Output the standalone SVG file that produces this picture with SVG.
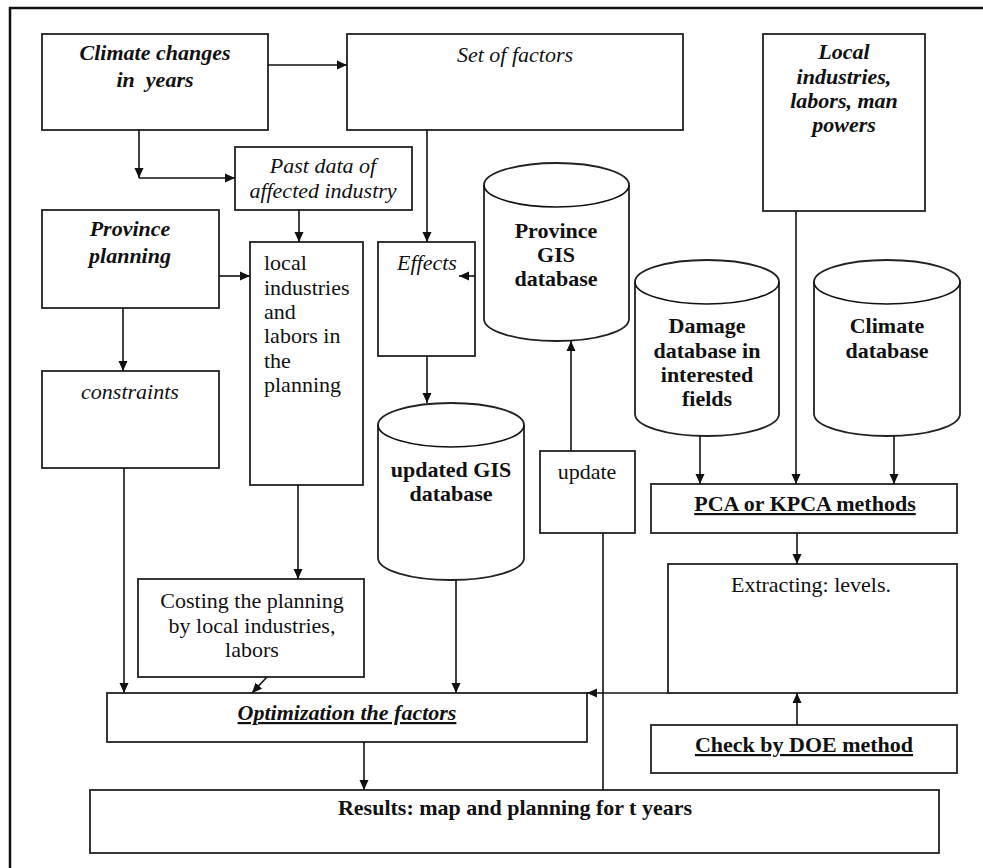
<svg xmlns="http://www.w3.org/2000/svg" width="983" height="868" viewBox="0 0 983 868">
<defs>
<style>
.b{fill:#fff;stroke:#222;stroke-width:1.8}
.c{fill:none;stroke:#111;stroke-width:1.6}
.t{font-family:"Liberation Serif","Times New Roman",serif;font-size:22px;fill:#111;text-anchor:middle}
.l{text-anchor:start}
.i{font-style:italic}
.w{font-weight:bold}
.u{text-decoration:underline}
</style>
<marker id="ah" viewBox="0 0 10 10" refX="10" refY="5" markerWidth="10" markerHeight="10" markerUnits="userSpaceOnUse" orient="auto">
<path d="M0,0.5 L10,5 L0,9.5 z" fill="#111"/>
</marker>
</defs>
<rect width="983" height="868" fill="#fff"/>
<path d="M10,868 V8 H983" fill="none" stroke="#111" stroke-width="2.5"/>

<g id="climate">
<rect class="b" x="42" y="34" width="226" height="96"/>
<text class="t i w" x="155" y="60">Climate changes</text>
<text class="t i w" x="155" y="87" style="white-space:pre">in  years</text>
</g>
<g id="setfactors">
<rect class="b" x="347" y="34" width="336" height="96"/>
<text class="t i" x="515" y="62">Set of factors</text>
</g>
<g id="localind">
<rect class="b" x="763" y="34" width="162" height="177"/>
<text class="t i w" x="844" y="59">Local</text>
<text class="t i w" x="844" y="84">industries,</text>
<text class="t i w" x="844" y="108">labors, man</text>
<text class="t i w" x="844" y="132">powers</text>
</g>
<g id="pastdata">
<rect class="b" x="235" y="147" width="177" height="63"/>
<text class="t i" x="323" y="173">Past data of</text>
<text class="t i" x="323" y="198">affected industry</text>
</g>
<g id="provplan">
<rect class="b" x="42" y="210" width="177" height="98"/>
<text class="t i w" x="130" y="236">Province</text>
<text class="t i w" x="130" y="263">planning</text>
</g>
<g id="constraints">
<rect class="b" x="42" y="371" width="177" height="97"/>
<text class="t i" x="130" y="399">constraints</text>
</g>
<g id="localplan">
<rect class="b" x="250" y="242" width="113" height="243"/>
<text class="t l" x="264" y="270">local</text>
<text class="t l" x="264" y="295">industries</text>
<text class="t l" x="264" y="319">and</text>
<text class="t l" x="264" y="343">labors in</text>
<text class="t l" x="264" y="368">the</text>
<text class="t l" x="264" y="392">planning</text>
</g>
<g id="effects">
<rect class="b" x="378" y="242" width="97" height="114"/>
<text class="t i" x="427" y="270">Effects</text>
</g>
<g id="provgis">
<path class="b" d="M484,185 V319 A72.5,22 0 0 0 629,319 V185 A72.5,22 0 0 0 484,185 z"/>
<path class="c" d="M484,185 A72.5,22 0 0 0 629,185"/>
<text class="t w" x="556" y="238">Province</text>
<text class="t w" x="556" y="262">GIS</text>
<text class="t w" x="556" y="286">database</text>
</g>
<g id="damagedb">
<path class="b" d="M635,282 V414 A72,22 0 0 0 779,414 V282 A72,22 0 0 0 635,282 z"/>
<path class="c" d="M635,282 A72,22 0 0 0 779,282"/>
<text class="t w" x="707" y="333">Damage</text>
<text class="t w" x="707" y="358">database in</text>
<text class="t w" x="707" y="382">interested</text>
<text class="t w" x="707" y="406">fields</text>
</g>
<g id="climatedb">
<path class="b" d="M814,282 V414 A73,22 0 0 0 960,414 V282 A73,22 0 0 0 814,282 z"/>
<path class="c" d="M814,282 A73,22 0 0 0 960,282"/>
<text class="t w" x="887" y="333">Climate</text>
<text class="t w" x="887" y="358">database</text>
</g>
<g id="updatedgis">
<path class="b" d="M378,425 V558 A73,22 0 0 0 524,558 V425 A73,22 0 0 0 378,425 z"/>
<path class="c" d="M378,425 A73,22 0 0 0 524,425"/>
<text class="t w" x="451" y="477">updated GIS</text>
<text class="t w" x="451" y="501">database</text>
</g>
<g id="update">
<rect class="b" x="540" y="451" width="95" height="82"/>
<text class="t" x="587" y="479">update</text>
</g>
<g id="pca">
<rect class="b" x="651" y="484" width="306" height="49"/>
<text class="t w u" x="805" y="511">PCA or KPCA methods</text>
</g>
<g id="extracting">
<rect class="b" x="668" y="564" width="289" height="129"/>
<text class="t" x="811" y="592">Extracting: levels.</text>
</g>
<g id="doe">
<rect class="b" x="651" y="725" width="306" height="48"/>
<text class="t w u" x="804" y="752">Check by DOE method</text>
</g>
<g id="costing">
<rect class="b" x="138" y="579" width="226" height="98"/>
<text class="t" x="252" y="608">Costing the planning</text>
<text class="t" x="252" y="633">by local industries,</text>
<text class="t" x="252" y="657">labors</text>
</g>
<g id="optimization">
<rect class="b" x="107" y="693" width="480" height="49"/>
<text class="t i w u" x="347" y="720">Optimization the factors</text>
</g>
<g id="results">
<rect class="b" x="90" y="790" width="849" height="63"/>
<text class="t w" x="515" y="815">Results: map and planning for t years</text>
</g>

<g id="connectors" class="c">
<path class="c" d="M268,65 H347" marker-end="url(#ah)"/>
<path class="c" d="M139,130 V178" marker-end="url(#ah)"/>
<path class="c" d="M139,178 H235" marker-end="url(#ah)"/>
<path class="c" d="M427,130 V242" marker-end="url(#ah)"/>
<path class="c" d="M299,210 V242" marker-end="url(#ah)"/>
<path class="c" d="M219,276 H250" marker-end="url(#ah)"/>
<path class="c" d="M123,308 V371" marker-end="url(#ah)"/>
<path class="c" d="M124,468 V693" marker-end="url(#ah)"/>
<path class="c" d="M298,485 V579" marker-end="url(#ah)"/>
<path class="c" d="M267,677 L252,693" marker-end="url(#ah)"/>
<path class="c" d="M475,276 H459" marker-end="url(#ah)"/>
<path class="c" d="M427,356 V403" marker-end="url(#ah)"/>
<path class="c" d="M456,580 V693" marker-end="url(#ah)"/>
<path class="c" d="M571,451 V341" marker-end="url(#ah)"/>
<path class="c" d="M603,533 V790"/>
<path class="c" d="M700,436 V484" marker-end="url(#ah)"/>
<path class="c" d="M796,211 V484" marker-end="url(#ah)"/>
<path class="c" d="M894,436 V484" marker-end="url(#ah)"/>
<path class="c" d="M797,533 V564" marker-end="url(#ah)"/>
<path class="c" d="M797,725 V693" marker-end="url(#ah)"/>
<path class="c" d="M668,693 H587" marker-end="url(#ah)"/>
<path class="c" d="M364,742 V790" marker-end="url(#ah)"/>
</g>
</svg>
